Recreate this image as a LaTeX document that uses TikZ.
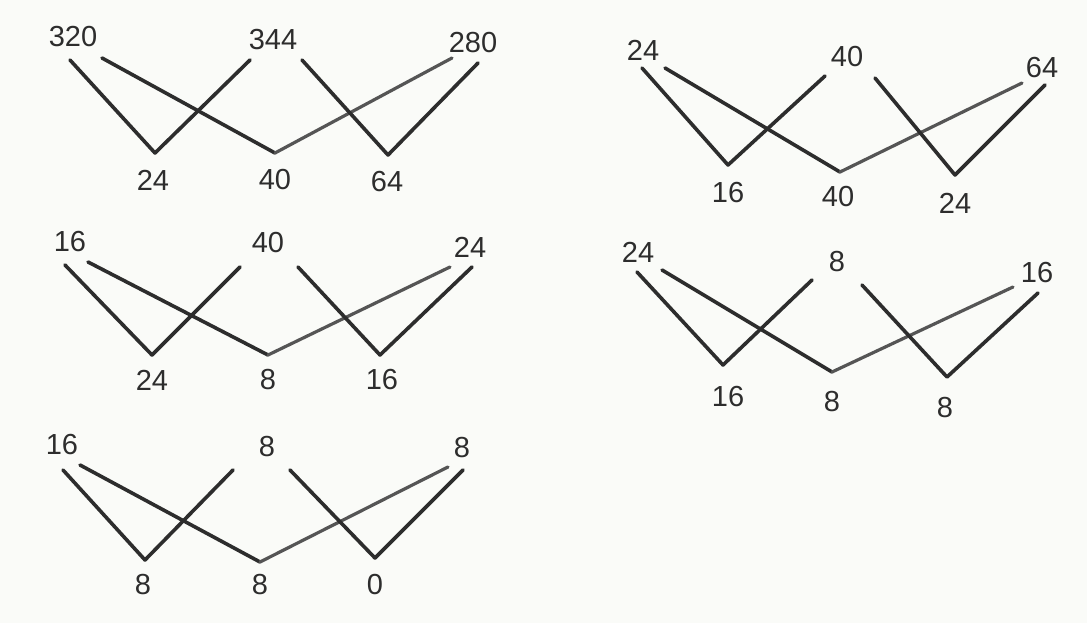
\documentclass[tikz,border=0pt]{standalone}
\usepackage{fontspec}
\setmainfont{Liberation Sans}
\definecolor{ink}{RGB}{45,45,45}
\definecolor{inklight}{RGB}{85,85,85}
\definecolor{paper}{RGB}{250,251,248}
\begin{document}
\begin{tikzpicture}[x=1pt,y=-1pt,
  lbl/.style={inner sep=0pt, text=ink, font=\fontsize{29}{34}\selectfont},
  stroke/.style={draw=ink, line width=3.6pt, line join=round, line cap=round},
  lightstroke/.style={draw=inklight, line width=3.2pt, line join=round, line cap=round}]
\fill[paper] (0,0) rectangle (1087,623);
\useasboundingbox (0,0) rectangle (1087,623);

% ---------- Diagram 1 ----------
\node[lbl] (aT1) at (73,37) {320};
\node[lbl] (aT2) at (273,40) {344};
\node[lbl] (aT3) at (473,43) {280};
\node[lbl] (aB1) at (153,180) {24};
\node[lbl] (aB2) at (275,180) {40};
\node[lbl] (aB3) at (387,182) {64};
\coordinate (aa) at (70,60);  \coordinate (aV1) at (155,153); \coordinate (ac) at (250,60);
\coordinate (ab) at (102,58); \coordinate (aV2) at (275,153); \coordinate (ae) at (452,58);
\coordinate (ad) at (302,60); \coordinate (aV3) at (388,155); \coordinate (af) at (478,63);
\draw[stroke] (aa) -- (aV1) -- (ac);
\draw[stroke] (ab) -- (aV2);
\draw[lightstroke] (aV2) -- (ae);
\draw[stroke] (ad) -- (aV3) -- (af);

% ---------- Diagram 2 ----------
\node[lbl] (bT1) at (643,50) {24};
\node[lbl] (bT2) at (847,57) {40};
\node[lbl] (bT3) at (1042,68) {64};
\node[lbl] (bB1) at (728,193) {16};
\node[lbl] (bB2) at (838,197) {40};
\node[lbl] (bB3) at (955,203) {24};
\coordinate (ba) at (642,68);  \coordinate (bV1) at (728,165); \coordinate (bc) at (825,76);
\coordinate (bb) at (665,68);  \coordinate (bV2) at (840,172); \coordinate (be) at (1022,83);
\coordinate (bd) at (875,78);  \coordinate (bV3) at (955,175); \coordinate (bf) at (1045,85);
\draw[stroke] (ba) -- (bV1) -- (bc);
\draw[stroke] (bb) -- (bV2);
\draw[lightstroke] (bV2) -- (be);
\draw[stroke] (bd) -- (bV3) -- (bf);

% ---------- Diagram 3 ----------
\node[lbl] (cT1) at (70,242) {16};
\node[lbl] (cT2) at (268,243) {40};
\node[lbl] (cT3) at (470,247) {24};
\node[lbl] (cB1) at (152,380) {24};
\node[lbl] (cB2) at (268,380) {8};
\node[lbl] (cB3) at (382,380) {16};
\coordinate (ca) at (65,265);  \coordinate (cV1) at (152,355); \coordinate (cc) at (240,267);
\coordinate (cb) at (88,262);  \coordinate (cV2) at (268,355); \coordinate (ce) at (450,267);
\coordinate (cd) at (298,267); \coordinate (cV3) at (380,355); \coordinate (cf) at (472,267);
\draw[stroke] (ca) -- (cV1) -- (cc);
\draw[stroke] (cb) -- (cV2);
\draw[lightstroke] (cV2) -- (ce);
\draw[stroke] (cd) -- (cV3) -- (cf);

% ---------- Diagram 4 ----------
\node[lbl] (dT1) at (638,252) {24};
\node[lbl] (dT2) at (837,262) {8};
\node[lbl] (dT3) at (1037,273) {16};
\node[lbl] (dB1) at (728,397) {16};
\node[lbl] (dB2) at (832,402) {8};
\node[lbl] (dB3) at (945,408) {8};
\coordinate (da) at (637,272); \coordinate (dV1) at (723,365); \coordinate (dc) at (812,280);
\coordinate (db) at (662,270); \coordinate (dV2) at (832,372); \coordinate (de) at (1013,287);
\coordinate (dd) at (862,285); \coordinate (dV3) at (947,377); \coordinate (df) at (1038,293);
\draw[stroke] (da) -- (dV1) -- (dc);
\draw[stroke] (db) -- (dV2);
\draw[lightstroke] (dV2) -- (de);
\draw[stroke] (dd) -- (dV3) -- (df);

% ---------- Diagram 5 ----------
\node[lbl] (eT1) at (62,445) {16};
\node[lbl] (eT2) at (267,447) {8};
\node[lbl] (eT3) at (462,448) {8};
\node[lbl] (eB1) at (143,585) {8};
\node[lbl] (eB2) at (260,585) {8};
\node[lbl] (eB3) at (375,585) {0};
\coordinate (ea) at (63,470);  \coordinate (eV1) at (145,560); \coordinate (ec) at (233,470);
\coordinate (eb) at (80,465);  \coordinate (eV2) at (260,562); \coordinate (ee) at (448,467);
\coordinate (ed) at (290,470); \coordinate (eV3) at (375,558); \coordinate (ef) at (463,470);
\draw[stroke] (ea) -- (eV1) -- (ec);
\draw[stroke] (eb) -- (eV2);
\draw[lightstroke] (eV2) -- (ee);
\draw[stroke] (ed) -- (eV3) -- (ef);
\end{tikzpicture}
\end{document}
